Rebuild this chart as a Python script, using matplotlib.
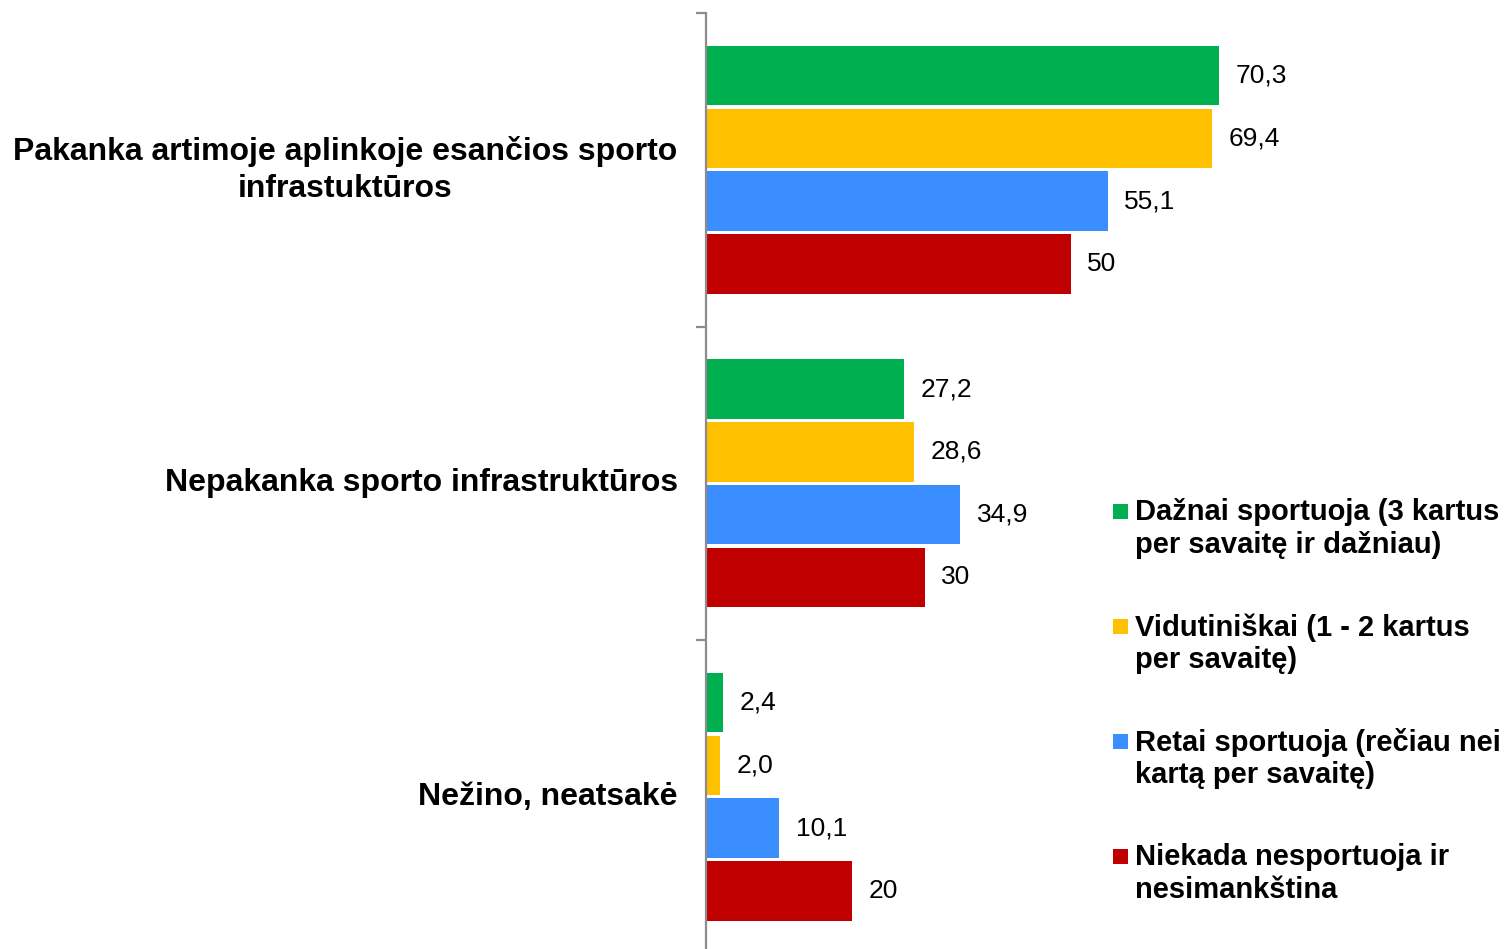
import matplotlib
matplotlib.use("Agg")
import matplotlib.pyplot as plt
from matplotlib.patches import Rectangle

plt.rcParams['font.family'] = ['Liberation Sans', 'DejaVu Sans']

categories = [
    "Pakanka artimoje aplinkoje esančios sporto\ninfrastuktūros",
    "Nepakanka sporto infrastruktūros",
    "Nežino, neatsakė",
]
series_names = [
    "Dažnai sportuoja (3 kartus\nper savaitę ir dažniau)",
    "Vidutiniškai (1 - 2 kartus\nper savaitę)",
    "Retai sportuoja (rečiau nei\nkartą per savaitę)",
    "Niekada nesportuoja ir\nnesimankština",
]
dazniai = [70.3, 27.2, 2.4]
vidutiniskai = [69.4, 28.6, 2.0]
retai = [55.1, 34.9, 10.1]
niekada = [50, 30, 20]
decimals = [1, 1, 1, 0]

series_values = [dazniai, vidutiniskai, retai, niekada]
colors = ["#00B050", "#FFC000", "#3A8EFF", "#C00000"]

W, H = 1505, 949
fig = plt.figure(figsize=(W / 100, H / 100), dpi=100)

# plot area in pixel terms
left_px, right_px = 705.5, 1300
top_px, bottom_px = 13, 953.5
ax = fig.add_axes([left_px / W, 1 - bottom_px / H,
                   (right_px - left_px) / W, (bottom_px - top_px) / H])
ax.set_clip_on(False)

slot = 0.2
bar_h = 0.19
n = len(series_values)
for i, (vals, col, dec) in enumerate(zip(series_values, colors, decimals)):
    ys = [c + (i - (n - 1) / 2) * slot for c in range(len(categories))]
    bars = ax.barh(ys, vals, height=bar_h, color=col, zorder=2, clip_on=False)
    labels = [f"{v:.{dec}f}".replace('.', ',') for v in vals]
    ax.bar_label(bars, labels=labels, padding=12, fontsize=19, color="black")

ax.set_xlim(0, (right_px - left_px) / 7.3)
ax.set_ylim(len(categories) - 0.5, -0.5)

for s in ("top", "right", "bottom"):
    ax.spines[s].set_visible(False)
ax.spines["left"].set_color("#8C8C8C")
ax.spines["left"].set_linewidth(1.6)
ax.spines["left"].set_zorder(3)
ax.xaxis.set_visible(False)

# category boundaries as major ticks, names on minor ticks
ax.set_yticks([k - 0.5 for k in range(len(categories) + 1)])
ax.set_yticklabels([])
ax.tick_params(axis='y', which='major', length=7, width=1.6, color="#8C8C8C",
               direction='out')
ax.set_yticks(range(len(categories)), minor=True)
ax.set_yticklabels(categories, minor=True, fontsize=23, fontweight='bold',
                   multialignment='center', linespacing=1.3, va='center')
ax.tick_params(axis='y', which='minor', length=0, pad=20)

# legend: square marker beside the first line of each entry
legend_x_px = 1113
text_x_px = 1135
first_line_px = 511
line_gap_px = 35
step_px = 115
sq = 15
for i, (name, col) in enumerate(zip(series_names, colors)):
    y = first_line_px + i * step_px
    fig.patches.append(Rectangle((legend_x_px / W, 1 - (y + sq / 2) / H),
                                 sq / W, sq / H, transform=fig.transFigure,
                                 facecolor=col, edgecolor='none'))
    fig.text(text_x_px / W, 1 - (y + line_gap_px / 2) / H, name, fontsize=21,
             fontweight='bold', va='center', ha='left', linespacing=1.2)

fig.savefig("out.png", dpi=100)
